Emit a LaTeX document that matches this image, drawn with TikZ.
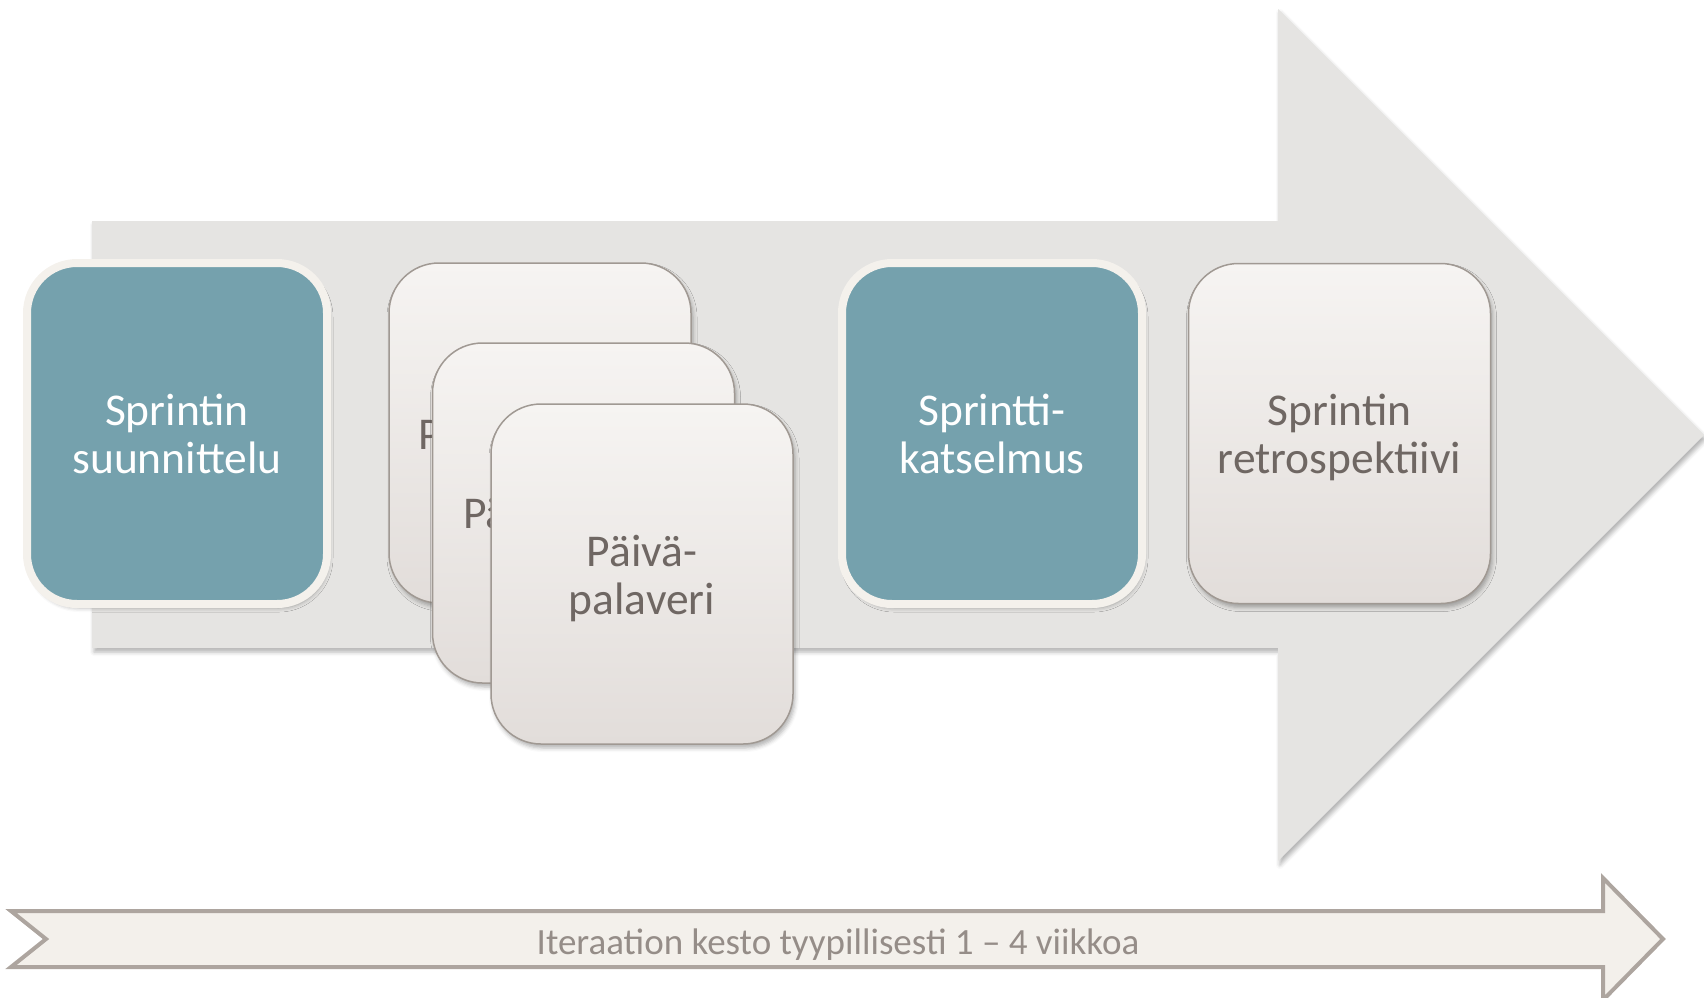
\documentclass[tikz,border=0pt]{standalone}
\usepackage{fontspec}
\setmainfont{Carlito}
\usetikzlibrary{shadows.blur}

\definecolor{sprintteal}{HTML}{75A1AD}
\definecolor{boxrim}{HTML}{F4F1EC}
\definecolor{arrowgray}{HTML}{E5E4E2}
\definecolor{cardtop}{HTML}{F6F4F2}
\definecolor{cardbottom}{HTML}{E2DDDA}
\definecolor{cardedge}{HTML}{A09993}
\definecolor{cardtext}{HTML}{6F6763}
\definecolor{timefill}{HTML}{F3F0EB}
\definecolor{timeedge}{HTML}{ADA59F}
\definecolor{timetext}{HTML}{958D88}
\newcommand{\lowstrut}{\rule{0pt}{40pt}}

\begin{document}
\begin{tikzpicture}[x=1pt,y=-1pt,
    soft shadow/.style={blur shadow={shadow xshift=2pt,shadow yshift=-4pt,shadow opacity=30,shadow blur radius=4pt}},
    tealbox/.style={draw=boxrim,line width=8pt,fill=sprintteal,rounded corners=50pt,
        minimum width=300pt,minimum height=341pt,inner sep=0pt,text=white,align=center,
        font=\fontsize{45.5}{48}\selectfont,soft shadow},
    card/.style={draw=cardedge,line width=1.5pt,top color=cardtop,bottom color=cardbottom,
        rounded corners=50pt,minimum width=302pt,minimum height=340pt,inner sep=0pt,
        text=cardtext,align=center,font=\fontsize{45.5}{48}\selectfont,soft shadow},
    cardline/.style={anchor=base west,inner sep=0pt,text=cardtext,font=\fontsize{45.5}{48}\selectfont},
    durtext/.style={text=timetext,font=\fontsize{37}{40}\selectfont}]
    \useasboundingbox (0,0) rectangle (1704,997);

    % Big arrow
    \fill[arrowgray,soft shadow] (92,221) -- (1278,221) -- (1278,9) -- (1704,435)
        -- (1278,861) -- (1278,648) -- (92,648) -- cycle;

    % Steps
    \node[tealbox] (plan) at (177,433.5) {Sprintin\\suunnittelu};

    \node[card] (dailyA) at (540,433) {};
    \node[cardline] (dailyAtxt) at (418,449) {Päivä-};
    \node[card] (dailyB) at (583.5,513) {};
    \node[cardline] (dailyBtxt) at (463,528) {Päivä-};
    \node[card] (dailyC) at (642,574) {\lowstrut Päivä-\\palaveri};

    \node[tealbox] (review) at (992,433.5) {Sprintti-\\katselmus};
    \node[card] (retro) at (1339.5,433.5) {\lowstrut Sprintin\\retrospektiivi};

    % Duration
    \draw[line width=4pt,draw=timeedge,fill=timefill] (11,911) -- (1603,911) -- (1603,878)
        -- (1663,939) -- (1603,1000) -- (1603,967) -- (11,967) -- (46,939) -- cycle;
    \node[durtext] (duration) at (838,945) {Iteraation kesto tyypillisesti 1 – 4 viikkoa};
\end{tikzpicture}
\end{document}
